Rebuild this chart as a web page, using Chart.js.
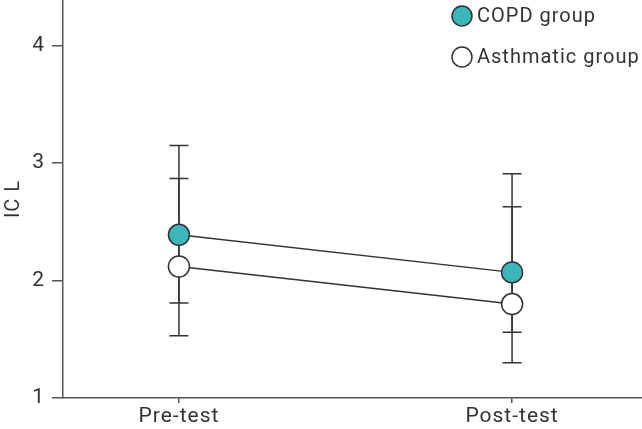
<!DOCTYPE html>
<html>
<head>
<meta charset="utf-8">
<script src="https://cdn.jsdelivr.net/npm/chart.js@4"></script>
<style>
  html, body { margin: 0; padding: 0; background: #fff; }
  #wrap { width: 642px; height: 429px; }
</style>
</head>
<body>
<div id="wrap"><canvas id="chart"></canvas></div>
<script>
// Chart values
const categories = ["Pre-test", "Post-test"];
const seriesNames = ["COPD group", "Asthmatic group"];
const copdMean = [2.39, 2.07];
const copdUpper = [3.15, 2.91];
const copdLower = [1.81, 1.56];
const asthmaMean = [2.12, 1.80];
const asthmaUpper = [2.87, 2.63];
const asthmaLower = [1.53, 1.30];
const yTicks = [1, 2, 3, 4];

const ink = "#333";
const teal = "#3bb6bb";
const fontFamily = "Roboto, 'Liberation Sans', sans-serif";

const toPoints = (mean, lo, hi) =>
  mean.map((v, i) => ({ x: i, y: v, yMin: lo[i], yMax: hi[i] }));

// a bit of tracking, the original face is wider than Roboto
const spacing = {
  id: "spacing",
  beforeLayout(chart) { chart.ctx.letterSpacing = "1px"; },
  beforeDraw(chart) { chart.ctx.letterSpacing = "1px"; },
};

// Error bars drawn under the markers
const errorBars = {
  id: "errorBars",
  beforeDatasetsDraw(chart) {
    const { ctx, scales: { x, y } } = chart;
    ctx.save();
    ctx.strokeStyle = ink;
    ctx.lineWidth = 1.5;
    chart.data.datasets.forEach((ds) => {
      ds.data.forEach((p) => {
        const px = x.getPixelForValue(p.x);
        const top = y.getPixelForValue(p.yMax);
        const bot = y.getPixelForValue(p.yMin);
        ctx.beginPath();
        ctx.moveTo(px, top);
        ctx.lineTo(px, bot);
        ctx.moveTo(px - 9.5, top);
        ctx.lineTo(px + 9.5, top);
        ctx.moveTo(px - 9.5, bot);
        ctx.lineTo(px + 9.5, bot);
        ctx.stroke();
      });
    });
    ctx.restore();
  },
};

// Legend in the top right corner, stacked
const cornerLegend = {
  id: "cornerLegend",
  afterDraw(chart) {
    const { ctx } = chart;
    ctx.save();
    ctx.font = "20px " + fontFamily;
    ctx.textBaseline = "middle";
    chart.data.datasets.forEach((ds, i) => {
      const cy = 16 + i * 41;
      ctx.beginPath();
      ctx.arc(462, cy, 10, 0, Math.PI * 2);
      ctx.fillStyle = ds.pointBackgroundColor;
      ctx.fill();
      ctx.lineWidth = 1.5;
      ctx.strokeStyle = ink;
      ctx.stroke();
      ctx.fillStyle = ink;
      ctx.fillText(ds.label, 477, cy + 1);
    });
    ctx.restore();
  },
};

const noPad = (s) => {
  s.paddingTop = 0;
  s.paddingBottom = 0;
  s.paddingLeft = 0;
  s.paddingRight = 0;
};

new Chart(document.getElementById("chart"), {
  type: "line",
  data: {
    datasets: [
      {
        label: seriesNames[0],
        data: toPoints(copdMean, copdLower, copdUpper),
        borderColor: ink,
        borderWidth: 1.5,
        pointRadius: 10.5,
        pointBackgroundColor: teal,
        pointBorderColor: ink,
        pointBorderWidth: 1.5,
        clip: false,
      },
      {
        label: seriesNames[1],
        data: toPoints(asthmaMean, asthmaLower, asthmaUpper),
        borderColor: ink,
        borderWidth: 1.5,
        pointRadius: 10.5,
        pointBackgroundColor: "#fff",
        pointBorderColor: ink,
        pointBorderWidth: 1.5,
        clip: false,
      },
    ],
  },
  options: {
    responsive: true,
    maintainAspectRatio: false,
    animation: false,
    layout: { padding: 0, autoPadding: false },
    plugins: {
      legend: { display: false },
      tooltip: { enabled: false },
    },
    scales: {
      x: {
        type: "linear",
        min: -0.348,
        max: 1.39,
        afterBuildTicks: (s) => { s.ticks = categories.map((_, i) => ({ value: i })); },
        afterFit: (s) => { s.height = 31; noPad(s); },
        ticks: {
          callback: (v) => categories[v],
          color: ink,
          font: { family: fontFamily, size: 21 },
          padding: 1,
          maxRotation: 0,
        },
        grid: { drawOnChartArea: false, tickLength: 5, color: "#555", lineWidth: 1.5 },
        border: { color: "#555", width: 1.5 },
      },
      y: {
        min: 1,
        max: 4.39,
        afterBuildTicks: (s) => { s.ticks = yTicks.map((v) => ({ value: v })); },
        afterFit: (s) => { s.width = 63; noPad(s); },
        ticks: {
          color: ink,
          font: { family: fontFamily, size: 21 },
          padding: 7,
        },
        title: {
          display: true,
          text: "IC L",
          color: ink,
          font: { family: fontFamily, size: 20 },
          padding: { top: 2, bottom: 0 },
        },
        grid: { drawOnChartArea: false, tickLength: 11, color: "#555", lineWidth: 1.5 },
        border: { color: "#555", width: 1.5 },
      },
    },
  },
  plugins: [spacing, errorBars, cornerLegend],
});
</script>
</body>
</html>
